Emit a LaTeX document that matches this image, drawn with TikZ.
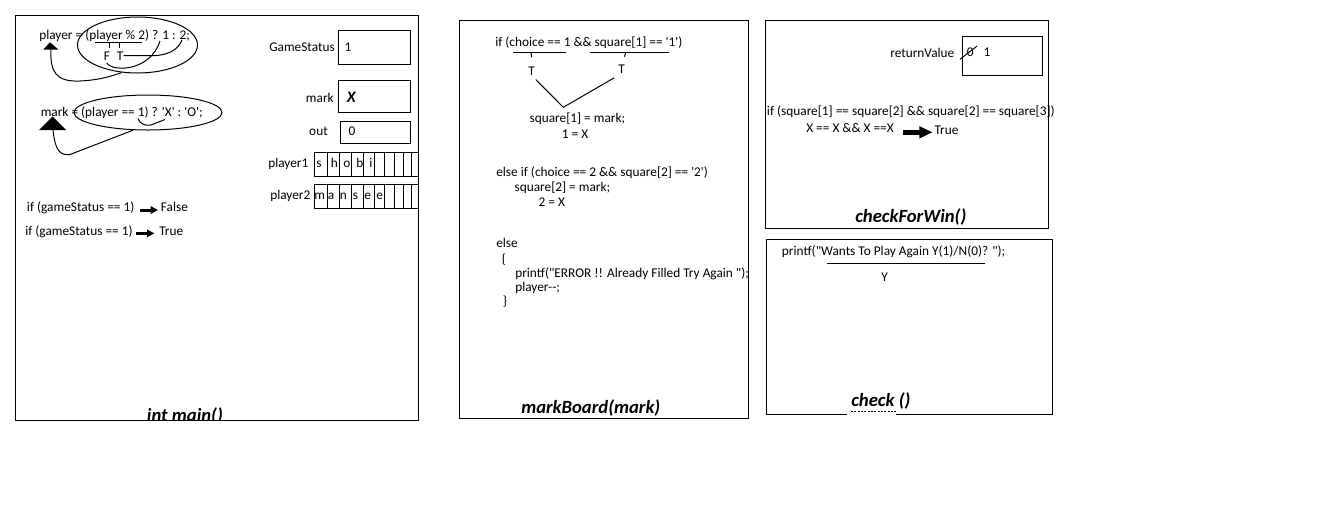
\documentclass[tikz,border=0pt]{standalone}
\usepackage{fontspec}
\newfontfamily\calibri{Carlito}
\usetikzlibrary{arrows.meta,shapes.geometric}

\begin{document}
\begin{tikzpicture}[x=0.75pt,y=-0.75pt]
   \tikzstyle{every node}=[inner sep=0pt, anchor=base west, font=\calibri\fontsize{10}{12}\selectfont]
   \tikzstyle{frame}=[draw, line width=0.75pt]
   \tikzstyle{wire}=[line width=0.75pt]
   \tikzstyle{cell}=[draw, line width=0.75pt]
   \tikzstyle{ring}=[draw, ellipse, anchor=center, line width=0.75pt]
   \tikzstyle{title}=[font=\calibri\fontsize{14}{16}\selectfont\bfseries\itshape]
   \tikzstyle{fat arrow}=[line width=2.2pt, -{Triangle[length=5.5pt,width=5.5pt]}]
   \tikzstyle{big arrow}=[line width=3.75pt, -{Triangle[length=10pt,width=8.5pt]}]

\path[fill=white] (0,0) rectangle (1341,515);

% int main()
\draw[frame] (15,15) rectangle (418,420);
\begin{scope}
   \clip (15,15) rectangle (418,420);
   \node[title] (mainttl) at (146.7,421) {int main()};
\end{scope}

\node (plyr) at (39,39) {player = (player \% 2) ? 1 : 2;};
\node[ring, minimum width=90pt, minimum height=42pt] (ring1) at (137.5,45) {};
\draw[wire] (95,42) -- (142,42);
\draw[wire] (109,42) -- (109,48);
\draw[wire] (119,42) -- (119,48);
\node (f) at (103.5,60) {F};
\node (t) at (116.5,60) {T};
\draw[wire] ([yshift=-2pt]f.south) .. controls (112,72) and (150,72) .. (160,41);
\draw[wire] (t.east) -- ++(28,0) .. controls +(16,0) and +(-4,10) .. (182,40);
\fill (50,42.3) -- (43.3,49.5) -- (58.3,49.5) -- cycle;
\coordinate (tip1) at (51,49.5);
\draw[wire] (tip1) .. controls (50,72) and (56,82) .. (80,81) .. controls (100,80) and (112,76) .. (ring1.240);

\node (mrk) at (40.5,116.5) {mark = (player == 1) ? 'X' : 'O';};
\node[ring, minimum width=111pt, minimum height=26.25pt] (ring2) at (148,112.5) {};
\draw[wire] (138,118.5) .. controls (140,124) and (145,126) .. (151,125) -- (165,119.5);
\fill (52.7,116.5) -- (39,130) -- (66,130) -- cycle;
\coordinate (tip2) at (53,130);
\draw[wire] (tip2) .. controls (55,150) and (60,156) .. (70,154.5) -- (ring2.230);

\node (gs1) at (26.7,211.5) {if (gameStatus == 1)};
\node (fls) at (160.7,211.5) {False};
\draw[fat arrow, shorten >=6pt] ([xshift=4pt,yshift=1.1pt]gs1.base east) -- ([xshift=4pt,yshift=1.1pt]gs1.base east -| fls.west);
\node (gs2) at (25,235.5) {if (gameStatus == 1)};
\node (tru) at (159,235.5) {True};
\draw[fat arrow, shorten >=6pt] ([xshift=2.5pt,yshift=1.6pt]gs2.base east) -- ([xshift=2.5pt,yshift=1.6pt]gs2.base east -| tru.west);

\node[anchor=base east] (gsl) at (335,51) {GameStatus};
\draw[frame] (338.5,30) rectangle (410,64);
\node (gsv) at (344.3,51) {1};
\node[anchor=base east] (mkl) at (334,102.3) {mark};
\draw[frame] (338.5,80) rectangle (410,112);
\node[font=\calibri\fontsize{12}{14}\selectfont\bfseries\itshape] (mkv) at (346.5,102.3) {X};
\node[anchor=base east] (outl) at (328,135.7) {out};
\draw[frame] (340,121) rectangle (410,143);
\node (outv) at (348.3,135.7) {0};

\node (p1l) at (268,167) {player1};
\node (p2l) at (270,199.5) {player2};
\foreach \a/\b in {314/327,327/339,339/351,351/363,363/374,374/384,384/394,394/403,403/411,411/418}{
   \draw[cell] (\a,152.5) rectangle (\b,176.5);
   \draw[cell] (\a,184.5) rectangle (\b,208.5);
}
\foreach \ch/\x [count=\i] in {s/316,h/330.5,o/343,b/356,i/369}
   \node (a\i) at (\x,167) {\ch};
\foreach \ch/\x [count=\i] in {m/314,a/327.5,n/339.5,s/352.5,e/364,e/376}
   \node (b\i) at (\x,199.5) {\ch};

% markBoard(mark)
\draw[frame] (459,20) rectangle (748,418);
\node (if1) at (495,46.7) {if (choice == 1 \&\& square[1] == '1')};
\draw[wire] (513.3,52.3) -- (566,52.3);
\draw[wire] (590,52.3) -- (669,52.3);
\draw[wire] (531,52.3) -- (531.7,57.3);
\draw[wire] (625.7,52.3) -- (624.5,56.7);
\node (t1) at (528,75) {T};
\node (t2) at (618,73.3) {T};
\coordinate (join) at (563.3,107.3);
\draw[wire, shorten <=4.5pt, shorten >=6.5pt] (t1.south) -- (join) -- (t2.south);
\node (sq1) at (529.3,122.7) {square[1] = mark;};
\node (eq1) at (561.7,138.3) {1 = X};
\node (elif) at (496,176.7) {else if (choice == 2 \&\& square[2] == '2')};
\node (sq2) at (514.3,191.7) {square[2] = mark;};
\node (eq2) at (538.3,206.7) {2 = X};
\node (els) at (496,247.3) {else};
\node (lbr) at (501.7,263.3) {\{};
\node (err) at (515,277.3) {printf("ERROR !! Already Filled Try Again ");};
\node (dec) at (515,291.7) {player--;};
\node (rbr) at (502.7,305) {\}};
\node[title] (mbttl) at (521,413.3) {markBoard(mark)};

% checkForWin()
\draw[frame] (765,20) rectangle (1048,228);
\node (rvl) at (890,57.3) {returnValue};
\draw[frame] (962,36) rectangle (1042.7,75);
\node (rv0) at (966.7,56) {0};
\draw[wire] (960,59.3) -- (977,46);
\node (rv1) at (983.3,56) {1};
\node (cond) at (766.7,115) {if (square[1] == square[2] \&\& square[2] == square[3])};
\node (xx) at (806,132.3) {X == X \&\& X ==X};
\node (tru2) at (934.3,134) {True};
\draw[big arrow, shorten >=8pt] ([xshift=6.75pt]xx.base east) -- ([xshift=6.75pt]xx.base east -| tru2.west);
\node[title] (cfwttl) at (855,222.7) {checkForWin()};

% check ()
\draw[frame] (847,414) -| (766,239) -| (1052,414) -- (896,414);
\node (ask) at (781.7,255.7) {printf("Wants To Play Again Y(1)/N(0)? ");};
\draw[wire] (826.7,263.3) -- (985,263.3);
\node (yes) at (881,281.7) {Y};
\node[title] (chkttl) at (851,406) {check ()};
\draw[wire, dash pattern=on 1.5pt off 1pt] (851,411) -- (896,411);

\end{tikzpicture}
\end{document}
